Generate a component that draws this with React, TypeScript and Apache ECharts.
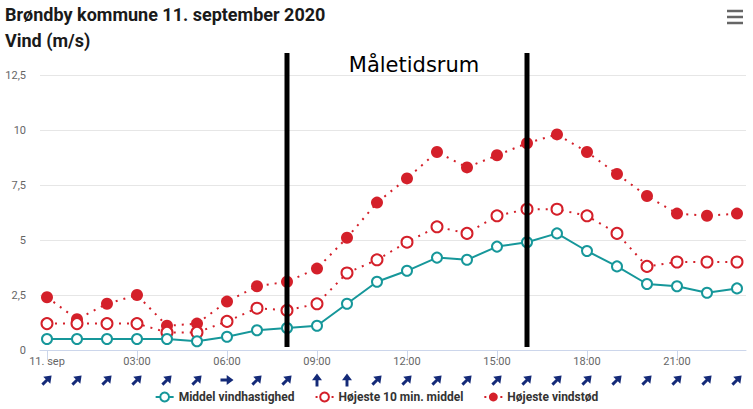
import React, { useEffect, useRef } from "react";
import * as echarts from "echarts";

const hours = [0, 1, 2, 3, 4, 5, 6, 7, 8, 9, 10, 11, 12, 13, 14, 15, 16, 17, 18, 19, 20, 21, 22, 23];
const middelVind = [0.5, 0.5, 0.5, 0.5, 0.5, 0.4, 0.6, 0.9, 1.0, 1.1, 2.1, 3.1, 3.6, 4.2, 4.1, 4.7, 4.9, 5.3, 4.5, 3.8, 3.0, 2.9, 2.6, 2.8];
const hoejeste10 = [1.2, 1.2, 1.2, 1.2, 0.8, 0.8, 1.3, 1.9, 1.8, 2.1, 3.5, 4.1, 4.9, 5.6, 5.3, 6.1, 6.4, 6.4, 6.1, 5.3, 3.8, 4.0, 4.0, 4.0];
const vindstoed = [2.4, 1.4, 2.1, 2.5, 1.1, 1.2, 2.2, 2.9, 3.1, 3.7, 5.1, 6.7, 7.8, 9.0, 8.3, 8.85, 9.4, 9.8, 9.0, 8.0, 7.0, 6.2, 6.1, 6.2];
// compass bearing the arrow points to (degrees, 0 = up)
const windArrowBearing = [45, 45, 45, 45, 45, 45, 90, 45, 45, 0, 0, 45, 45, 45, 45, 45, 45, 45, 45, 45, 45, 45, 45, 45];
const xTickHours = [0, 3, 6, 9, 12, 15, 18, 21];
const xTickLabels = ["11. sep", "03:00", "06:00", "09:00", "12:00", "15:00", "18:00", "21:00"];
const periodHours = [8, 16];
const seriesNames = ["Middel vindhastighed", "Højeste 10 min. middel", "Højeste vindstød"];

const TEAL = "#16979a";
const RED = "#d4202a";
const NAVY = "#142a78";
const ARROW = "path://M5,0 L10.8,6.8 L6.7,6.8 L6.7,13 L3.3,13 L3.3,6.8 L-0.8,6.8 Z";

export default function App() {
  const ref = useRef<HTMLDivElement>(null);
  useEffect(() => {
    if (!ref.current) return;
    const chart = echarts.init(ref.current, undefined, { renderer: "svg" });
    const labelMap: Record<number, string> = {};
    xTickHours.forEach((h, i) => (labelMap[h] = xTickLabels[i]));
    const xMin = -0.233;
    const xMax = 23.3;
    chart.setOption({
      animation: false,
      backgroundColor: "#ffffff",
      textStyle: { fontFamily: "Roboto" },
      title: [
        { text: "Brøndby kommune 11. september 2020", left: 5, top: 5, padding: 0, textStyle: { fontFamily: "Roboto", fontWeight: "bold", fontSize: 18, color: "#1a1a1a" } },
        { text: "Vind (m/s)", left: 5, top: 31, padding: 0, textStyle: { fontFamily: "Roboto", fontWeight: "bold", fontSize: 18, color: "#1a1a1a" } },
      ],
      legend: {
        top: 386,
        left: "center",
        itemWidth: 18,
        itemHeight: 11,
        itemGap: 20,
        textStyle: { fontFamily: "Roboto", fontWeight: "bold", fontSize: 12, color: "#333333" },
        data: seriesNames,
      },
      grid: [
        { left: 40, right: 7, top: 75, bottom: 59 },
        { left: 40, right: 7, top: 373, height: 14 },
      ],
      xAxis: [
        {
          type: "value",
          gridIndex: 0,
          min: xMin,
          max: xMax,
          splitLine: { show: false },
          axisLine: { show: true, lineStyle: { color: "#ccd6eb", width: 1 } },
          axisTick: { show: true, length: 10, lineStyle: { color: "#ccd6eb" }, customValues: xTickHours },
          axisLabel: {
            color: "#666666",
            fontSize: 11,
            margin: 6,
            customValues: xTickHours,
            formatter: (v: number) => labelMap[Math.round(v)] ?? "",
          },
        },
        {
          type: "value",
          gridIndex: 1,
          min: xMin,
          max: xMax,
          show: false,
        },
      ],
      yAxis: [
        {
          type: "value",
          gridIndex: 0,
          min: 0,
          max: 12.5,
          interval: 2.5,
          axisLine: { show: false },
          axisTick: { show: false },
          splitLine: { lineStyle: { color: "#e6e6e6" } },
          axisLabel: {
            color: "#666666",
            fontSize: 11,
            margin: 14,
            formatter: (v: number) => String(v).replace(".", ","),
          },
        },
        { type: "value", gridIndex: 1, min: -1, max: 1, show: false },
      ],
      series: [
        {
          name: seriesNames[0],
          type: "line",
          data: hours.map((h, i) => [h, middelVind[i]]),
          symbol: "circle",
          symbolSize: 10,
          showAllSymbol: true,
          z: 4,
          lineStyle: { color: TEAL, width: 2 },
          itemStyle: { color: "#ffffff", borderColor: TEAL, borderWidth: 2 },
        },
        {
          name: seriesNames[1],
          type: "line",
          data: hours.map((h, i) => [h, hoejeste10[i]]),
          symbol: "circle",
          symbolSize: 11,
          z: 3,
          lineStyle: { color: RED, width: 2, type: [2, 6] },
          itemStyle: { color: "#ffffff", borderColor: RED, borderWidth: 2 },
        },
        {
          name: seriesNames[2],
          type: "line",
          data: hours.map((h, i) => [h, vindstoed[i]]),
          symbol: "circle",
          symbolSize: 12,
          z: 2,
          lineStyle: { color: RED, width: 2, type: [2, 6] },
          itemStyle: { color: RED, borderColor: RED, borderWidth: 0 },
        },
        {
          name: "Vindretning",
          type: "scatter",
          xAxisIndex: 1,
          yAxisIndex: 1,
          symbol: ARROW,
          symbolSize: [10, 13],
          itemStyle: { color: NAVY, opacity: 1 },
          data: hours.map((h, i) => ({ value: [h, 0], symbolRotate: -windArrowBearing[i] })),
        },
      ],
    });

    const top = 53;
    const bottomPx = (chart.convertToPixel({ gridIndex: 0 }, [0, 0]) as number[])[1] - 3;
    const xs = periodHours.map((h) => (chart.convertToPixel({ gridIndex: 0 }, [h, 0]) as number[])[0]);
    const midX = (xs[0] + xs[1]) / 2 + 7;
    chart.setOption({
      graphic: [
        ...xs.map((x) => ({
          type: "line",
          z: 100,
          shape: { x1: x, y1: top, x2: x, y2: bottomPx },
          style: { stroke: "#000000", lineWidth: 5 },
        })),
        {
          type: "text",
          z: 100,
          x: midX,
          y: 65,
          style: { text: "Måletidsrum", font: "21px 'DejaVu Sans'", fill: "#000000", align: "center", verticalAlign: "middle" },
        },
        ...[11, 17, 23].map((y) => ({
          type: "rect",
          z: 100,
          shape: { x: 727, y: y - 1.25, width: 16, height: 2.5 },
          style: { fill: "#666666" },
        })),
      ],
    });
    return () => chart.dispose();
  }, []);
  return <div ref={ref} style={{ width: 753, height: 409, position: "absolute", left: 0, top: 0 }} />;
}
